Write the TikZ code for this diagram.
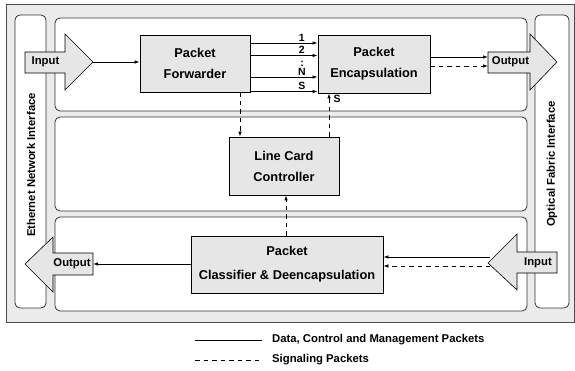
\documentclass[tikz,border=0pt]{standalone}
\usepackage{fontspec}
\setmainfont{Liberation Sans}
\usetikzlibrary{arrows.meta,calc}
\definecolor{bgc}{HTML}{EBEBEB}
\definecolor{boxc}{HTML}{E6E6E6}
\begin{document}
\begin{tikzpicture}[x=1pt,y=-1pt,
 panel/.style={draw=black!80,line width=0.8pt,rounded corners=5pt,fill=white},
 blk/.style={draw=black,line width=0.8pt,fill=boxc,font=\bfseries\fontsize{12.8}{21}\selectfont,align=center,inner sep=0pt},
 bigarrow/.style={draw=black,line width=0.6pt,fill=boxc},
 lbl/.style={font=\bfseries\fontsize{11.3}{13}\selectfont,inner sep=0pt},
 num/.style={font=\bfseries\fontsize{10.5}{12}\selectfont,inner sep=0pt},
 data/.style={line width=0.8pt,-{Latex[length=5pt,width=3.5pt]}},
 sig/.style={data,dash pattern=on 4.5pt off 4pt},
]
\useasboundingbox (0,0) rectangle (575,371);
% frame and panels
\draw[fill=bgc,draw=black!70,line width=0.8pt] (6,4) rectangle (574,322);
\draw[panel] (15,15) rectangle (46,308);
\draw[panel] (535,15) rectangle (569,308);
\draw[panel] (55,18) rectangle (527,111);
\draw[panel] (55,117) rectangle (527,211);
\draw[panel] (55,217) rectangle (527,311);
\node[lbl,rotate=90] (eni) at (31,165) {Ethernet Network Interface};
\node[lbl,rotate=90] (ofi) at (552,164) {Optical Fabric Interface};
% blocks
\node[blk,minimum width=110pt,minimum height=57pt] (fwd) at (195,63.5) {Packet\\Forwarder};
\node[blk,minimum width=112pt,minimum height=58pt] (enc) at (374,64) {Packet\\Encapsulation};
\node[blk,minimum width=110pt,minimum height=58pt] (lcc) at (284,166) {Line Card\\Controller};
\node[blk,minimum width=192pt,minimum height=57pt,font=\bfseries\fontsize{12.8}{24}\selectfont] (cls) at (287,264.5) {Packet\\Classifier \& Deencapsulation};
% big arrows
\draw[bigarrow] (25,52) -- (65,52) -- (65,34) -- (93,62) -- (65,90) -- (65,73) -- (25,73) -- cycle;
\node[lbl] (in1) at (45.5,62) {Input};
\coordinate (in1tip) at (93,62);
\draw[bigarrow] (488,52) -- (530,52) -- (530,34) -- (557,62) -- (530,90) -- (530,73) -- (488,73) -- cycle;
\node[lbl] (out1) at (510.5,62) {Output};
\coordinate (out1l) at (488,0);
\draw[bigarrow] (93,253) -- (53,253) -- (53,237) -- (25,264) -- (53,292) -- (53,275) -- (93,275) -- cycle;
\node[lbl] (out2) at (72,264) {Output};
\coordinate (out2r) at (93,264);
\draw[bigarrow] (517,252) -- (557,252) -- (557,273) -- (517,273) -- (517,290) -- (488,263) -- (517,234) -- cycle;
\node[lbl] (in2) at (538,262.5) {Input};
\coordinate (in2l) at (490,0);
% connectors top
\draw[data] (in1tip) -- (fwd.west |- in1tip);
\coordinate (l1) at (0,43);
\coordinate (l2) at (0,55.5);
\coordinate (l3) at (0,77);
\coordinate (l4) at (0,91.5);
\draw[data] (fwd.east |- l1) -- (enc.west |- l1) node[num,pos=0.765,above=1.5pt] (n1) {1};
\draw[data] (fwd.east |- l2) -- (enc.west |- l2) node[num,pos=0.765,above=1.5pt] (n2) {2};
\draw[data] (fwd.east |- l3) -- (enc.west |- l3) node[num,pos=0.765,above=1.5pt] (nN) {N};
\draw[data] (fwd.east |- l4) -- (enc.west |- l4) node[num,pos=0.765,above=1.5pt] (nS) {S};
\node[num] (dots) at (302,63.5) {:};
\coordinate (o1) at (0,57);
\coordinate (o2) at (0,66);
\draw[data] (enc.east |- o1) -- (out1l |- o1);
\draw[sig] (enc.east |- o2) -- (out1l |- o2);
% signaling verticals
\coordinate (v1) at (240,0);
\coordinate (v2) at (329,0);
\coordinate (v3) at (286,0);
\draw[sig] (fwd.south -| v1) -- (lcc.north -| v1);
\draw[sig] (lcc.north -| v2) -- (enc.south -| v2);
\node[num] (sS) at (337,99) {S};
\draw[sig] (cls.north -| v3) -- (lcc.south -| v3);
% bottom connectors
\coordinate (b1) at (0,257);
\coordinate (b2) at (0,266);
\draw[data] (in2l |- b1) -- (cls.east |- b1);
\draw[sig] (in2l |- b2) -- (cls.east |- b2);
\draw[data] (cls.west |- out2r) -- (out2r);
% legend
\coordinate (lg1a) at (195,340);
\coordinate (lg1b) at (262,340);
\coordinate (lg2a) at (195,360);
\coordinate (lg2b) at (262,360);
\draw[line width=0.8pt] (lg1a) -- (lg1b);
\draw[line width=0.8pt,dash pattern=on 4.5pt off 4pt] (lg2a) -- (lg2b);
\node[lbl,anchor=west] (lt1) at ($(lg1b)+(10,0)$) {Data, Control and Management Packets};
\node[lbl,anchor=west] (lt2) at ($(lg2b)+(10,0)$) {Signaling Packets};
\end{tikzpicture}
\end{document}
